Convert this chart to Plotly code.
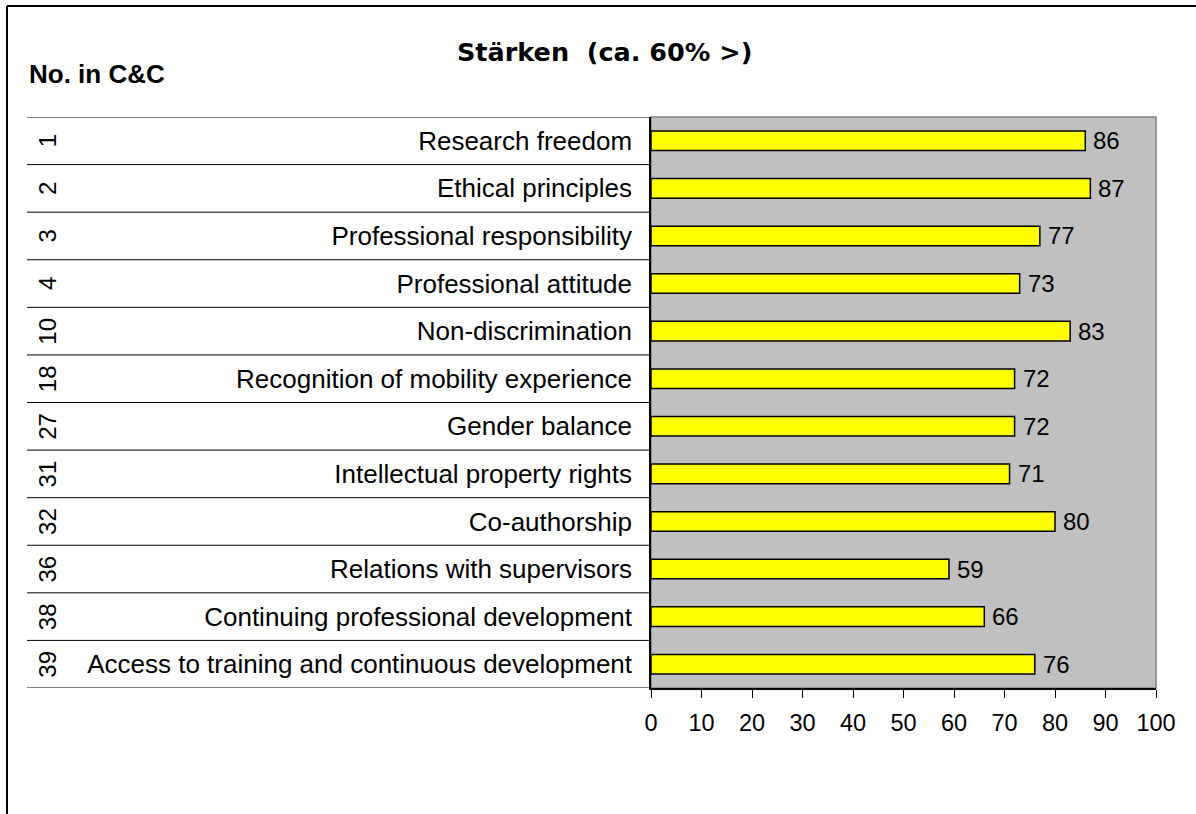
import plotly.graph_objects as go

numbers = ["1", "2", "3", "4", "10", "18", "27", "31", "32", "36", "38", "39"]
labels = [
    "Research freedom",
    "Ethical principles",
    "Professional responsibility",
    "Professional attitude",
    "Non-discrimination",
    "Recognition of mobility experience",
    "Gender balance",
    "Intellectual property rights",
    "Co-authorship",
    "Relations with supervisors",
    "Continuing professional development",
    "Access to training and continuous development",
]
values = [86, 87, 77, 73, 83, 72, 72, 71, 80, 59, 66, 76]
x_ticks = [0, 10, 20, 30, 40, 50, 60, 70, 80, 90, 100]

W, H = 1196, 814
L, R, T, B = 651, 40, 117, 126
pw, ph = W - L - R, H - T - B


def px_x(px):
    return (px - L) / pw


def px_y(py):
    return (H - B - py) / ph


FONT = "Liberation Sans, Arial, sans-serif"
idx = list(range(len(labels)))

fig = go.Figure()
fig.add_trace(go.Bar(
    x=values,
    y=idx,
    orientation="h",
    width=0.41,
    marker=dict(color="#FFFF00", line=dict(color="#000000", width=1.5)),
    hoverinfo="skip",
))

annotations = []
for i, v in enumerate(values):
    annotations.append(dict(
        x=v, y=i, xref="x", yref="y", text=str(v), showarrow=False,
        xanchor="left", yanchor="middle", xshift=6,
        font=dict(family=FONT, size=24, color="#000000"),
    ))
for i, n in enumerate(numbers):
    annotations.append(dict(
        x=px_x(47.5), y=i, xref="paper", yref="y", text=n, showarrow=False,
        xanchor="center", yanchor="middle", textangle=-90,
        font=dict(family=FONT, size=24, color="#000000"),
    ))
annotations.append(dict(
    x=px_x(604), y=px_y(52), xref="paper", yref="paper",
    text="<b>Stärken  (ca. 60% &gt;)</b>", showarrow=False,
    xanchor="center", yanchor="middle",
    font=dict(family="DejaVu Sans, sans-serif", size=25.5, color="#000000"),
))
annotations.append(dict(
    x=px_x(27), y=px_y(74), xref="paper", yref="paper",
    text="<b>No. in C&amp;C</b>", showarrow=False,
    xanchor="left", yanchor="middle",
    font=dict(family=FONT, size=26, color="#000000"),
))

shapes = []
# row separators on the left
for k in range(len(labels) + 1):
    shapes.append(dict(
        type="line", xref="paper", yref="y",
        x0=px_x(27), x1=0, y0=k - 0.5, y1=k - 0.5,
        line=dict(color="#000000", width=1),
    ))
# plot area frame (gray)
shapes.append(dict(
    type="rect", xref="paper", yref="paper", x0=0, x1=1, y0=0, y1=1,
    line=dict(color="#808080", width=1.5), layer="below",
))
# outer chart border (left and top)
shapes.append(dict(
    type="line", xref="paper", yref="paper",
    x0=px_x(7), x1=px_x(7), y0=px_y(6), y1=px_y(H + 10),
    line=dict(color="#000000", width=2),
))
shapes.append(dict(
    type="line", xref="paper", yref="paper",
    x0=px_x(7), x1=px_x(W + 10), y0=px_y(6), y1=px_y(6),
    line=dict(color="#000000", width=2),
))

fig.update_layout(
    width=W, height=H,
    margin=dict(l=L, r=R, t=T, b=B, pad=0),
    paper_bgcolor="#FFFFFF",
    plot_bgcolor="#C0C0C0",
    showlegend=False,
    font=dict(family=FONT, size=26, color="#000000"),
    annotations=annotations,
    shapes=shapes,
    xaxis=dict(
        range=[0, 100], tickvals=x_ticks, ticktext=[str(t) for t in x_ticks],
        showgrid=False, zeroline=False,
        showline=True, linecolor="#000000", linewidth=1.5,
        ticks="outside", ticklen=8, tickcolor="#000000", tickwidth=1,
        ticklabelstandoff=5,
        tickfont=dict(family=FONT, size=23.5, color="#000000"),
        fixedrange=True,
    ),
    yaxis=dict(
        range=[len(labels) - 0.5, -0.5],
        tickvals=idx, ticktext=labels,
        showgrid=False, zeroline=False,
        showline=True, linecolor="#000000", linewidth=1.5,
        ticks="", ticklabelstandoff=12,
        tickfont=dict(family=FONT, size=26, color="#000000"),
        fixedrange=True,
    ),
)

fig.write_html(
    "out.html",
    config={"displayModeBar": False},
    post_script="document.body.style.margin='0px';",
)
